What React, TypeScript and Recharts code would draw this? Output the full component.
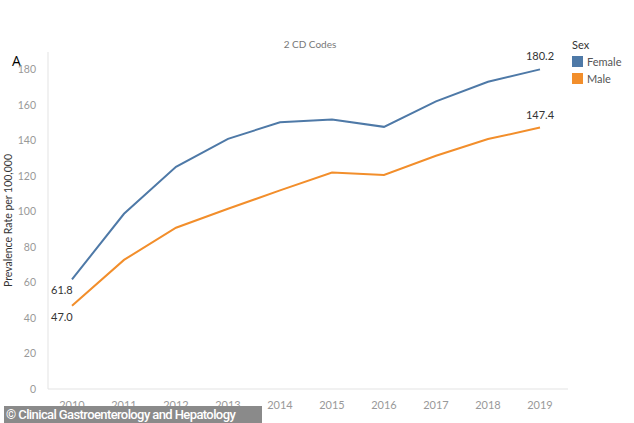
import React from "react";
import { LineChart, Line, XAxis, YAxis, LabelList } from "recharts";

const years = ["2010", "2011", "2012", "2013", "2014", "2015", "2016", "2017", "2018", "2019"];
const female = [61.8, 98.8, 125.3, 141.0, 150.4, 151.9, 147.8, 162.2, 173.2, 180.2];
const male = [47.0, 72.8, 90.9, 101.6, 112.0, 122.1, 120.7, 131.5, 140.9, 147.4];
const yTicks = [0, 20, 40, 60, 80, 100, 120, 140, 160, 180];
const legendItems = [
  { name: "Female", color: "#4e79a7" },
  { name: "Male", color: "#f28e2b" },
];

const FONT = "Lato, 'Open Sans', sans-serif";

const data = years.map((y, i) => ({ year: y, female: female[i], male: male[i] }));

const EndLabel = (props: any) => {
  const { x, y, value, index } = props;
  if (index === 0) {
    return (
      <text x={x - 21} y={y + 15} fill="#333" fontSize={11} fontFamily={FONT}>
        {Number(value).toFixed(1)}
      </text>
    );
  }
  if (index === years.length - 1) {
    return (
      <text x={x} y={y - 9} fill="#333" fontSize={11} fontFamily={FONT} textAnchor="middle">
        {Number(value).toFixed(1)}
      </text>
    );
  }
  return null;
};

export default function App() {
  return (
    <div style={{ position: "absolute", left: 0, top: 0, width: 634, height: 423, background: "#fff", overflow: "hidden" }}>
      <div style={{ position: "absolute", left: 0, width: 620, top: 38, textAlign: "center", fontFamily: FONT, fontSize: 10, color: "#777" }}>
        2 CD Codes
      </div>
      <div style={{ position: "absolute", left: 12, top: 51, fontFamily: "'Open Sans', sans-serif", fontSize: 14, color: "#000" }}>
        A
      </div>
      <div
        style={{
          position: "absolute",
          left: 572,
          top: 36,
          fontFamily: FONT,
          fontSize: 11,
          color: "#555",
          lineHeight: "17px",
        }}
      >
        <div style={{ color: "#333" }}>Sex</div>
        {legendItems.map((it) => (
          <div key={it.name} style={{ display: "flex", alignItems: "center" }}>
            <span style={{ display: "inline-block", width: 11, height: 11, background: it.color, marginRight: 4 }} />
            {it.name}
          </div>
        ))}
      </div>
      <div style={{ position: "absolute", left: 0, top: 0 }}>
        <LineChart width={634} height={423} data={data} margin={{ top: 52, right: 66, bottom: 4, left: 8 }}>
          <XAxis
            dataKey="year"
            height={30}
            padding={{ left: 24, right: 28 }}
            tickLine={false}
            axisLine={{ stroke: "#e3e3e3" }}
            tick={{ fill: "#999", fontSize: 11, fontFamily: FONT }}
            tickMargin={6}
          />
          <YAxis
            domain={[0, 190]}
            ticks={yTicks}
            width={40}
            tickLine={false}
            axisLine={{ stroke: "#e3e3e3" }}
            tick={{ fill: "#999", fontSize: 10.5, fontFamily: FONT }}
            tickMargin={6}
            label={{
              value: "Prevalence Rate per 100,000",
              angle: -90,
              position: "insideLeft",
              offset: 0,
              style: { textAnchor: "middle", fill: "#333", fontSize: 10.5, fontFamily: FONT },
            }}
          />
          <Line
            type="linear"
            dataKey="female"
            name="Female"
            stroke={legendItems[0].color}
            strokeWidth={2}
            dot={false}
            isAnimationActive={false}
          >
            <LabelList dataKey="female" content={<EndLabel />} />
          </Line>
          <Line
            type="linear"
            dataKey="male"
            name="Male"
            stroke={legendItems[1].color}
            strokeWidth={2}
            dot={false}
            isAnimationActive={false}
          >
            <LabelList dataKey="male" content={<EndLabel />} />
          </Line>
        </LineChart>
      </div>
      <div
        style={{
          position: "absolute",
          left: 4,
          top: 406,
          width: 258,
          height: 17,
          background: "#8a8a8a",
          color: "#fff",
          fontFamily: "Roboto, sans-serif",
          fontSize: 13,
          fontWeight: 500,
          letterSpacing: -0.6,
          lineHeight: "17px",
          paddingLeft: 2,
          boxSizing: "border-box",
          whiteSpace: "nowrap",
        }}
      >
        © Clinical Gastroenterology and Hepatology
      </div>
    </div>
  );
}
